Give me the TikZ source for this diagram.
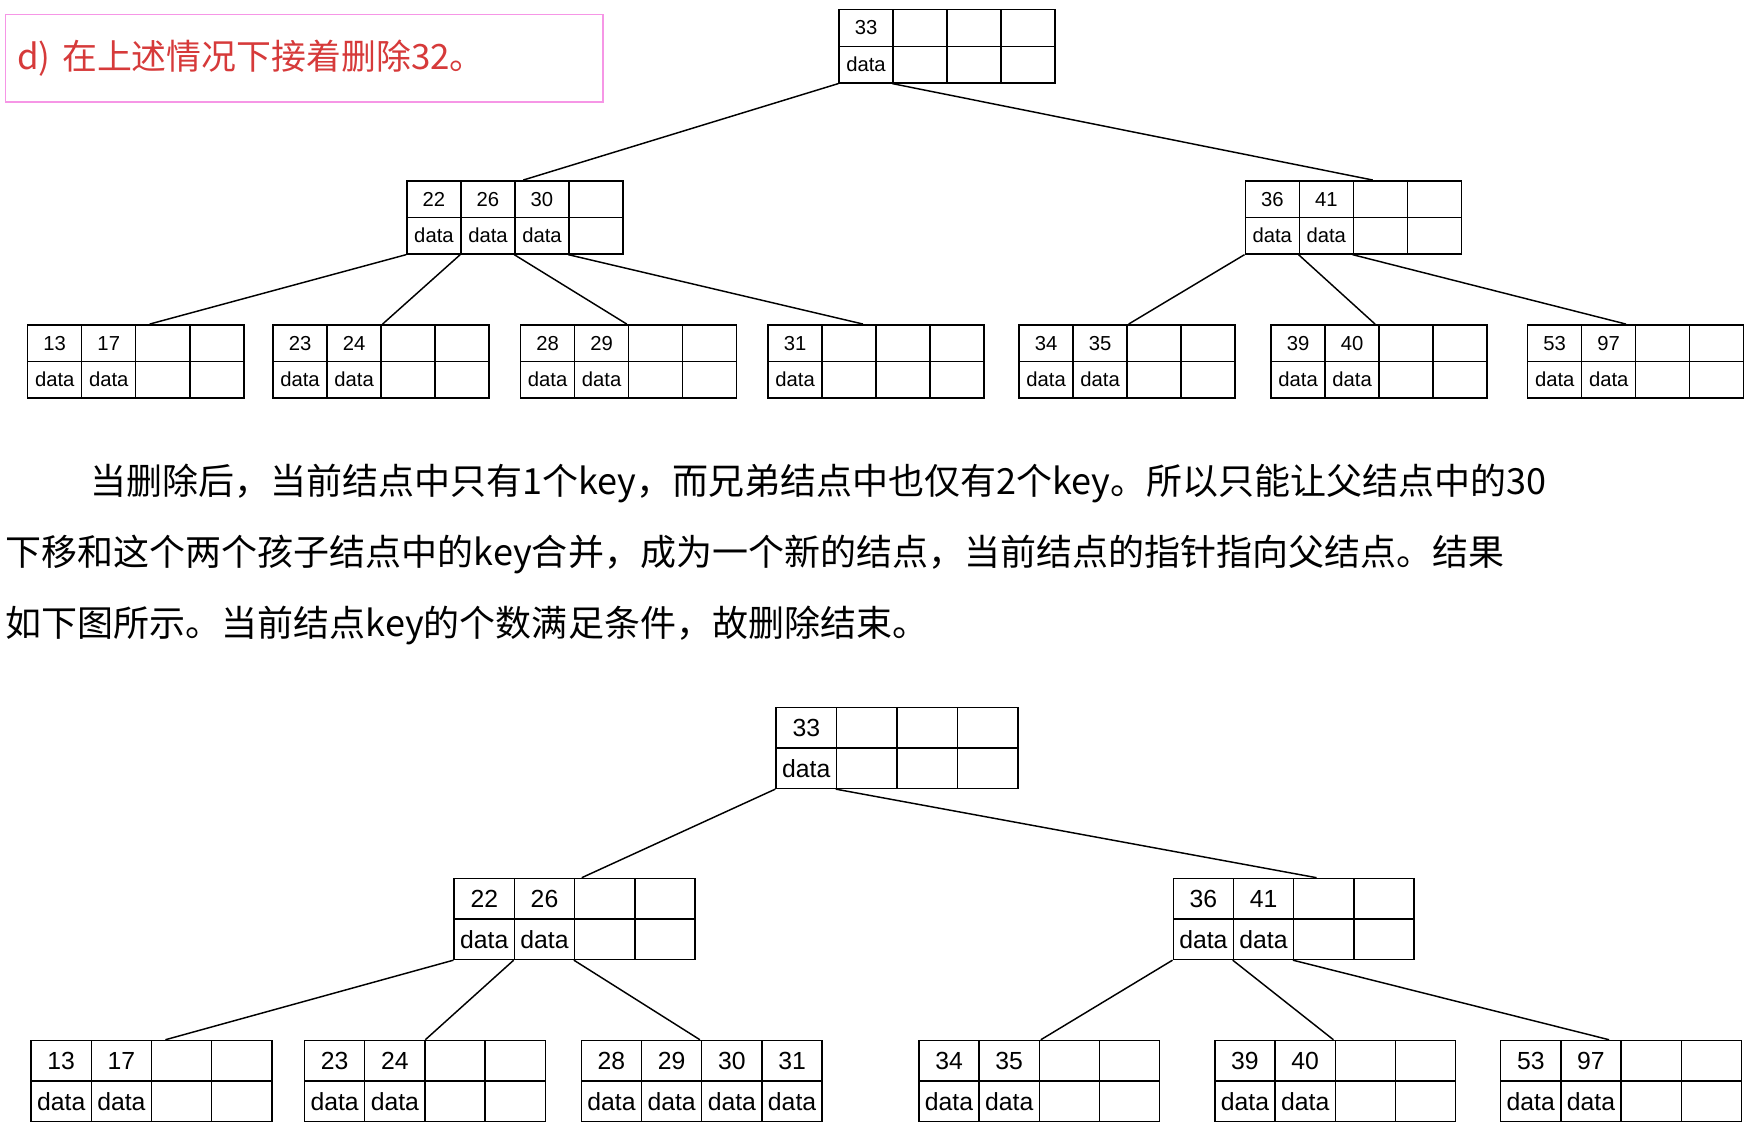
\documentclass[tikz,border=0pt]{standalone}
\usepackage{fontspec}
\setmainfont{Liberation Sans}
\newfontfamily\cjk{Noto Sans CJK SC}
\definecolor{titlered}{RGB}{214,58,58}
\definecolor{pinkb}{RGB}{246,150,230}
\tikzset{
  cell/.style={draw,line width=1.3pt,inner sep=0pt,anchor=north west,font=\fontsize{#1}{#1}\selectfont},
  conn/.style={line width=1.3pt},
}
\begin{document}
\begin{tikzpicture}[x=1pt,y=1pt]
\useasboundingbox (0,0) rectangle (1565,-1012);
\node[draw=pinkb,line width=1.5pt,minimum width=531pt,minimum height=78pt,anchor=north west,
  text=titlered,font=\cjk\fontsize{31}{31}\selectfont,inner sep=0pt,
  text width=510pt,align=left] (title) at (4,-12) {d) 在上述情况下接着删除32。};
\foreach \nm/\bx/\by/\cw/\rh/\fs/\ks/\ds in {
  r/745/8/48/32.5/18/{33,,,}/{data,,,},
  a/361/160/48/32.5/18/{22,26,30,}/{data,data,data,},
  b/1106/160/48/32.5/18/{36,41,,}/{data,data,,},
  l1/24/288/48/32.5/18/{13,17,,}/{data,data,,},
  l2/242/288/48/32.5/18/{23,24,,}/{data,data,,},
  l3/462/288/48/32.5/18/{28,29,,}/{data,data,,},
  l4/682/288/48/32.5/18/{31,,,}/{data,,,},
  l5/905/288/48/32.5/18/{34,35,,}/{data,data,,},
  l6/1129/288/48/32.5/18/{39,40,,}/{data,data,,},
  l7/1357/288/48/32.5/18/{53,97,,}/{data,data,,},
  R/689/628/53.75/36/22/{33,,,}/{data,,,},
  A/403/780/53.5/36/22/{22,26,,}/{data,data,,},
  B/1042/780/53.5/36/22/{36,41,,}/{data,data,,},
  L1/27/924/53.5/36/22/{13,17,,}/{data,data,,},
  L2/270/924/53.5/36/22/{23,24,,}/{data,data,,},
  L3/516/924/53.5/36/22/{28,29,30,31}/{data,data,data,data},
  L5/816/924/53.5/36/22/{34,35,,}/{data,data,,},
  L6/1079/924/53.5/36/22/{39,40,,}/{data,data,,},
  L7/1333/924/53.5/36/22/{53,97,,}/{data,data,,}}{
  \foreach \txt [count=\i] in \ks {
    \node[cell=\fs,minimum width=\cw pt,minimum height=\rh pt] (\nm-k-\i) at ({\bx+(\i-1)*\cw},{-\by}) {\txt};}
  \foreach \txt [count=\i] in \ds {
    \node[cell=\fs,minimum width=\cw pt,minimum height=\rh pt] (\nm-d-\i) at ({\bx+(\i-1)*\cw},{-\by-\rh}) {\txt};}
}
\draw[conn] (r-d-1.south west) -- ([xshift=104pt]a-k-1.north west);
\draw[conn] (r-d-2.south west) -- ([xshift=114pt]b-k-1.north west);
\draw[conn] (a-d-1.south west) -- ([xshift=109pt]l1-k-1.north west);
\draw[conn] (a-d-2.south west) -- ([xshift=98pt]l2-k-1.north west);
\draw[conn] (a-d-3.south west) -- ([xshift=95pt]l3-k-1.north west);
\draw[conn] (a-d-4.south west) -- ([xshift=85pt]l4-k-1.north west);
\draw[conn] (b-d-1.south west) -- ([xshift=98pt]l5-k-1.north west);
\draw[conn] (b-d-2.south west) -- ([xshift=93pt]l6-k-1.north west);
\draw[conn] (b-d-3.south west) -- ([xshift=88pt]l7-k-1.north west);
\node[anchor=west,inner sep=0pt,font=\cjk\fontsize{32}{32}\selectfont] (p1) at (80,-430) {当删除后，当前结点中只有1个key，而兄弟结点中也仅有2个key。所以只能让父结点中的30};
\node[anchor=west,inner sep=0pt,font=\cjk\fontsize{32}{32}\selectfont] (p2) at (5,-493) {下移和这个两个孩子结点中的key合并，成为一个新的结点，当前结点的指针指向父结点。结果};
\node[anchor=west,inner sep=0pt,font=\cjk\fontsize{32}{32}\selectfont] (p3) at (5,-556) {如下图所示。当前结点key的个数满足条件，故删除结束。};
\draw[conn] (R-d-1.south west) -- ([xshift=114pt]A-k-1.north west);
\draw[conn] (R-d-2.south west) -- ([xshift=128pt]B-k-1.north west);
\draw[conn] (A-d-1.south west) -- ([xshift=120pt]L1-k-1.north west);
\draw[conn] (A-d-2.south west) -- ([xshift=108pt]L2-k-1.north west);
\draw[conn] (A-d-3.south west) -- ([xshift=106pt]L3-k-1.north west);
\draw[conn] (B-d-1.south west) -- ([xshift=109pt]L5-k-1.north west);
\draw[conn] (B-d-2.south west) -- ([xshift=106pt]L6-k-1.north west);
\draw[conn] (B-d-3.south west) -- ([xshift=97pt]L7-k-1.north west);
\end{tikzpicture}
\end{document}
